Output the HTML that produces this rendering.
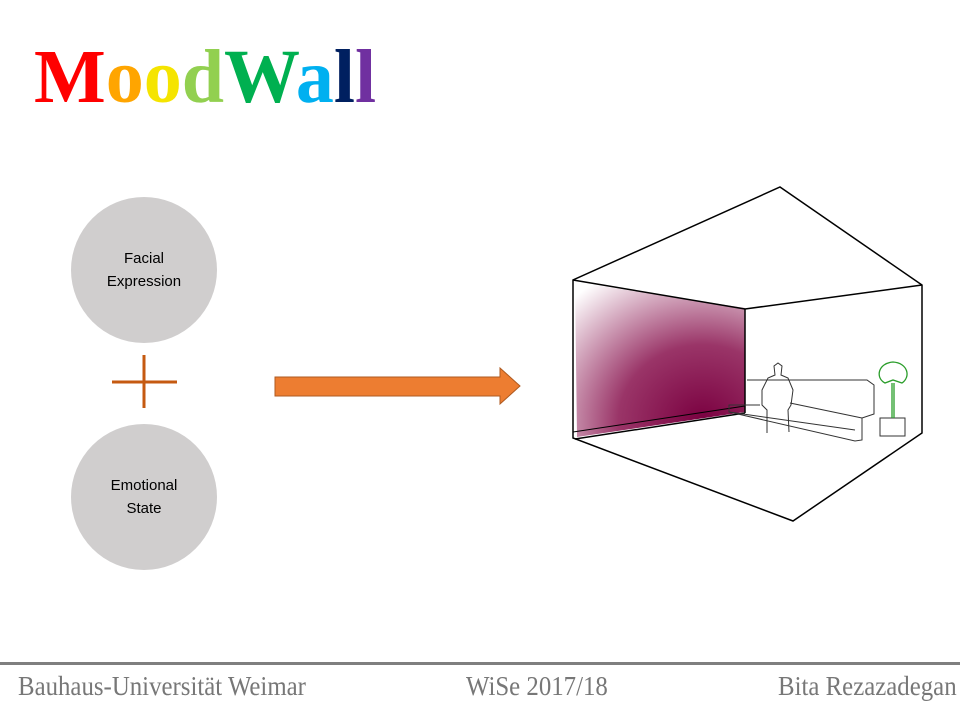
<!DOCTYPE html>
<html><head><meta charset="utf-8"><style>
body{margin:0;width:960px;height:720px;background:#fff;position:relative;overflow:hidden;font-family:"Liberation Sans",sans-serif}
.t{position:absolute;left:34px;top:32px;font-family:"Liberation Serif",serif;font-weight:bold;font-size:76px;line-height:90px;white-space:nowrap}
.c{position:absolute;width:146px;height:146px;border-radius:50%;background:#d0cece;display:flex;align-items:center;justify-content:center;text-align:center;font-size:15px;line-height:23px;color:#000}
.f{position:absolute;top:670px;font-family:"Liberation Serif",serif;font-size:27px;line-height:32px;color:#777;white-space:nowrap;transform-origin:left top;transform:scaleX(0.92)}
</style></head><body>
<div class="t"><span style="color:#ff0000">M</span><span style="color:#ffa500">o</span><span style="color:#f5e400">o</span><span style="color:#92d050">d</span><span style="color:#00b050">W</span><span style="color:#00b0f0">a</span><span style="color:#002060">l</span><span style="color:#7030a0">l</span></div>
<div class="c" style="left:71px;top:197px">Facial<br>Expression</div>
<div class="c" style="left:71px;top:424px">Emotional<br>State</div>
<svg width="960" height="720" style="position:absolute;left:0;top:0">
<defs>
<radialGradient id="g" cx="0.75" cy="0.9" r="1.1">
<stop offset="0" stop-color="#7a0040"/><stop offset="0.45" stop-color="#9a3568"/><stop offset="1" stop-color="#fff"/>
</radialGradient>
</defs>
<line x1="112" y1="382" x2="177" y2="382" stroke="#c55a11" stroke-width="3"/>
<line x1="144" y1="355" x2="144" y2="408" stroke="#c55a11" stroke-width="3"/>
<polygon points="275,377 500,377 500,368 520,386 500,404 500,396 275,396" fill="#ed7d31" stroke="#ae5a21" stroke-width="1"/>
<polygon points="575,282 745,308 745,412 577,437" fill="url(#g)"/>
<g fill="none" stroke="#000" stroke-width="1.5">
<polygon points="780,187 922,285 922,433 793,521 573,438 573,280"/>
<polyline points="573,280 745,309 922,285"/>
<line x1="745" y1="309" x2="745" y2="413"/>
<polyline points="575,439 745,413"/>
<line x1="573" y1="432" x2="745" y2="406" stroke-width="1"/>
</g>
<g fill="none" stroke="#333" stroke-width="1">
<polyline points="747,380 867,380 874,385 874,414 862,418 862,440 855,441 729,412 729,405 760,405"/>
<line x1="729" y1="412" x2="855" y2="430"/>
<line x1="790" y1="403" x2="862" y2="418"/>
<path d="M767 433 L767 410 L762 405 L762 390 L768 378 L775 375 L774 366 L778 363 L782 366 L781 375 L788 378 L793 390 L791 405 L788 410 L789 432"/>
<rect x="880" y="418" width="25" height="18"/>
</g>
<g fill="none" stroke="#2a9d2a" stroke-width="1.3">
<path d="M893 362 C878 363 875 378 885 383 L893 380 L902 383 C911 377 908 363 893 362Z"/>
<line x1="892" y1="383" x2="892" y2="418"/><line x1="894" y1="383" x2="894" y2="418"/>
</g>
<rect x="0" y="662" width="960" height="3" fill="#7f7f7f"/>
</svg>
<div class="f" style="left:18px">Bauhaus-Universität Weimar</div>
<div class="f" style="left:466px">WiSe 2017/18</div>
<div class="f" style="left:778px">Bita Rezazadegan</div>
</body></html>
